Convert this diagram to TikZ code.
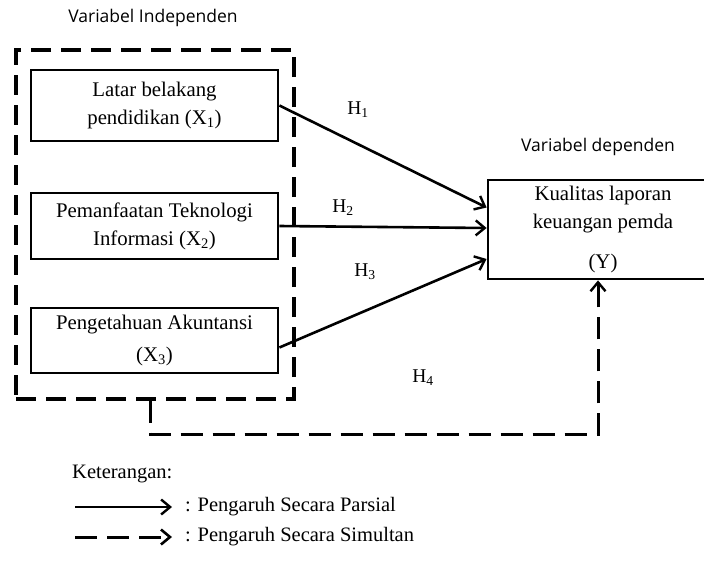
\documentclass[tikz,border=0pt]{standalone}
\usepackage{fontspec}
\setmainfont{Liberation Serif}
\newfontfamily\headfont{Open Sans}
\usetikzlibrary{arrows.meta}

\tikzset{
	varbox/.style={draw, line width=2.8pt, rectangle, align=center, inner sep=0pt,
		font=\fontsize{20.8}{28}\selectfont},
	grpbox/.style={draw, line width=3.2pt, dash pattern=on 20pt off 10pt, rectangle, inner sep=0pt},
	parsial/.style={line width=2.6pt, -{Straight Barb[length=9pt,width=15pt,line width=2.4pt]}},
	simultan/.style={line width=3pt, dash pattern=on 22pt off 10pt,
		-{Straight Barb[length=9pt,width=15pt,line width=2.6pt]}},
	hlabel/.style={font=\fontsize{19.5}{22}\selectfont},
	headlabel/.style={font=\headfont\fontsize{17.5}{20}\selectfont},
	legtext/.style={font=\fontsize{20.5}{24}\selectfont, anchor=west, inner sep=0pt}
}

\begin{document}
\begin{tikzpicture}[x=1pt,y=-1pt]
			\useasboundingbox (0,0) rectangle (704,560);
			\clip (0,0) rectangle (704,560);
			% independent variables
			\node[headlabel] (indep) at (153,18) {Variabel Independen};
			\node[grpbox, minimum width=278, minimum height=349] (grp) at (155,224.5) {};
			\node[varbox, minimum width=247, minimum height=71] (x1) at (154.5,105.5)
				{Latar belakang\\pendidikan (X\textsubscript{1})};
			\node[varbox, minimum width=247, minimum height=66] (x2) at (154.5,226)
				{Pemanfaatan Teknologi\\Informasi (X\textsubscript{2})};
			\node[varbox, minimum width=247, minimum height=65] (x3) at (154.5,340.5)
				{Pengetahuan Akuntansi\\[4pt](X\textsubscript{3})};
			% dependent variable
			\node[headlabel] (dep) at (598,147) {Variabel dependen};
			\node[varbox, minimum width=230, minimum height=99] (y) at (603,229.5)
				{Kualitas laporan\\keuangan pemda\\[12pt](Y)};
			% partial effects
			\draw[parsial] (x1.east) -- ([yshift=22pt]y.west);
			\draw[parsial] (x2.east) -- ([yshift=1.5pt]y.west);
			\draw[parsial] ([yshift=-7pt]x3.east) -- ([yshift=-29.5pt]y.west);
			\node[hlabel] (h1) at (358,110) {H\textsubscript{1}};
			\node[hlabel] (h2) at (343,208) {H\textsubscript{2}};
			\node[hlabel] (h3) at (365,272) {H\textsubscript{3}};
			% simultaneous effect
			\coordinate (corner) at (150,434);
			\draw[line width=3pt, dash pattern=on 22pt off 10pt] ([xshift=-5pt]grp.south) -- (corner) -| (598,300);
			\draw[parsial, line width=3pt] (598,300) -- ([xshift=-5pt]y.south);
			\node[hlabel] (h4) at (423,378) {H\textsubscript{4}};
			% legend
			\node[legtext] (ket) at (72,474) {Keterangan:};
			\coordinate (p1a) at (75,507);
			\coordinate (p1b) at (172,507);
			\coordinate (p2a) at (75,537);
			\coordinate (p2b) at (172,537);
			\draw[parsial, line width=2.8pt] (p1a) -- (p1b);
			\draw[simultan] (p2a) -- (p2b);
			\node[legtext] (leg1) at (185,507) {: Pengaruh Secara Parsial};
			\node[legtext] (leg2) at (185,537) {: Pengaruh Secara Simultan};
		\end{tikzpicture}
\end{document}
